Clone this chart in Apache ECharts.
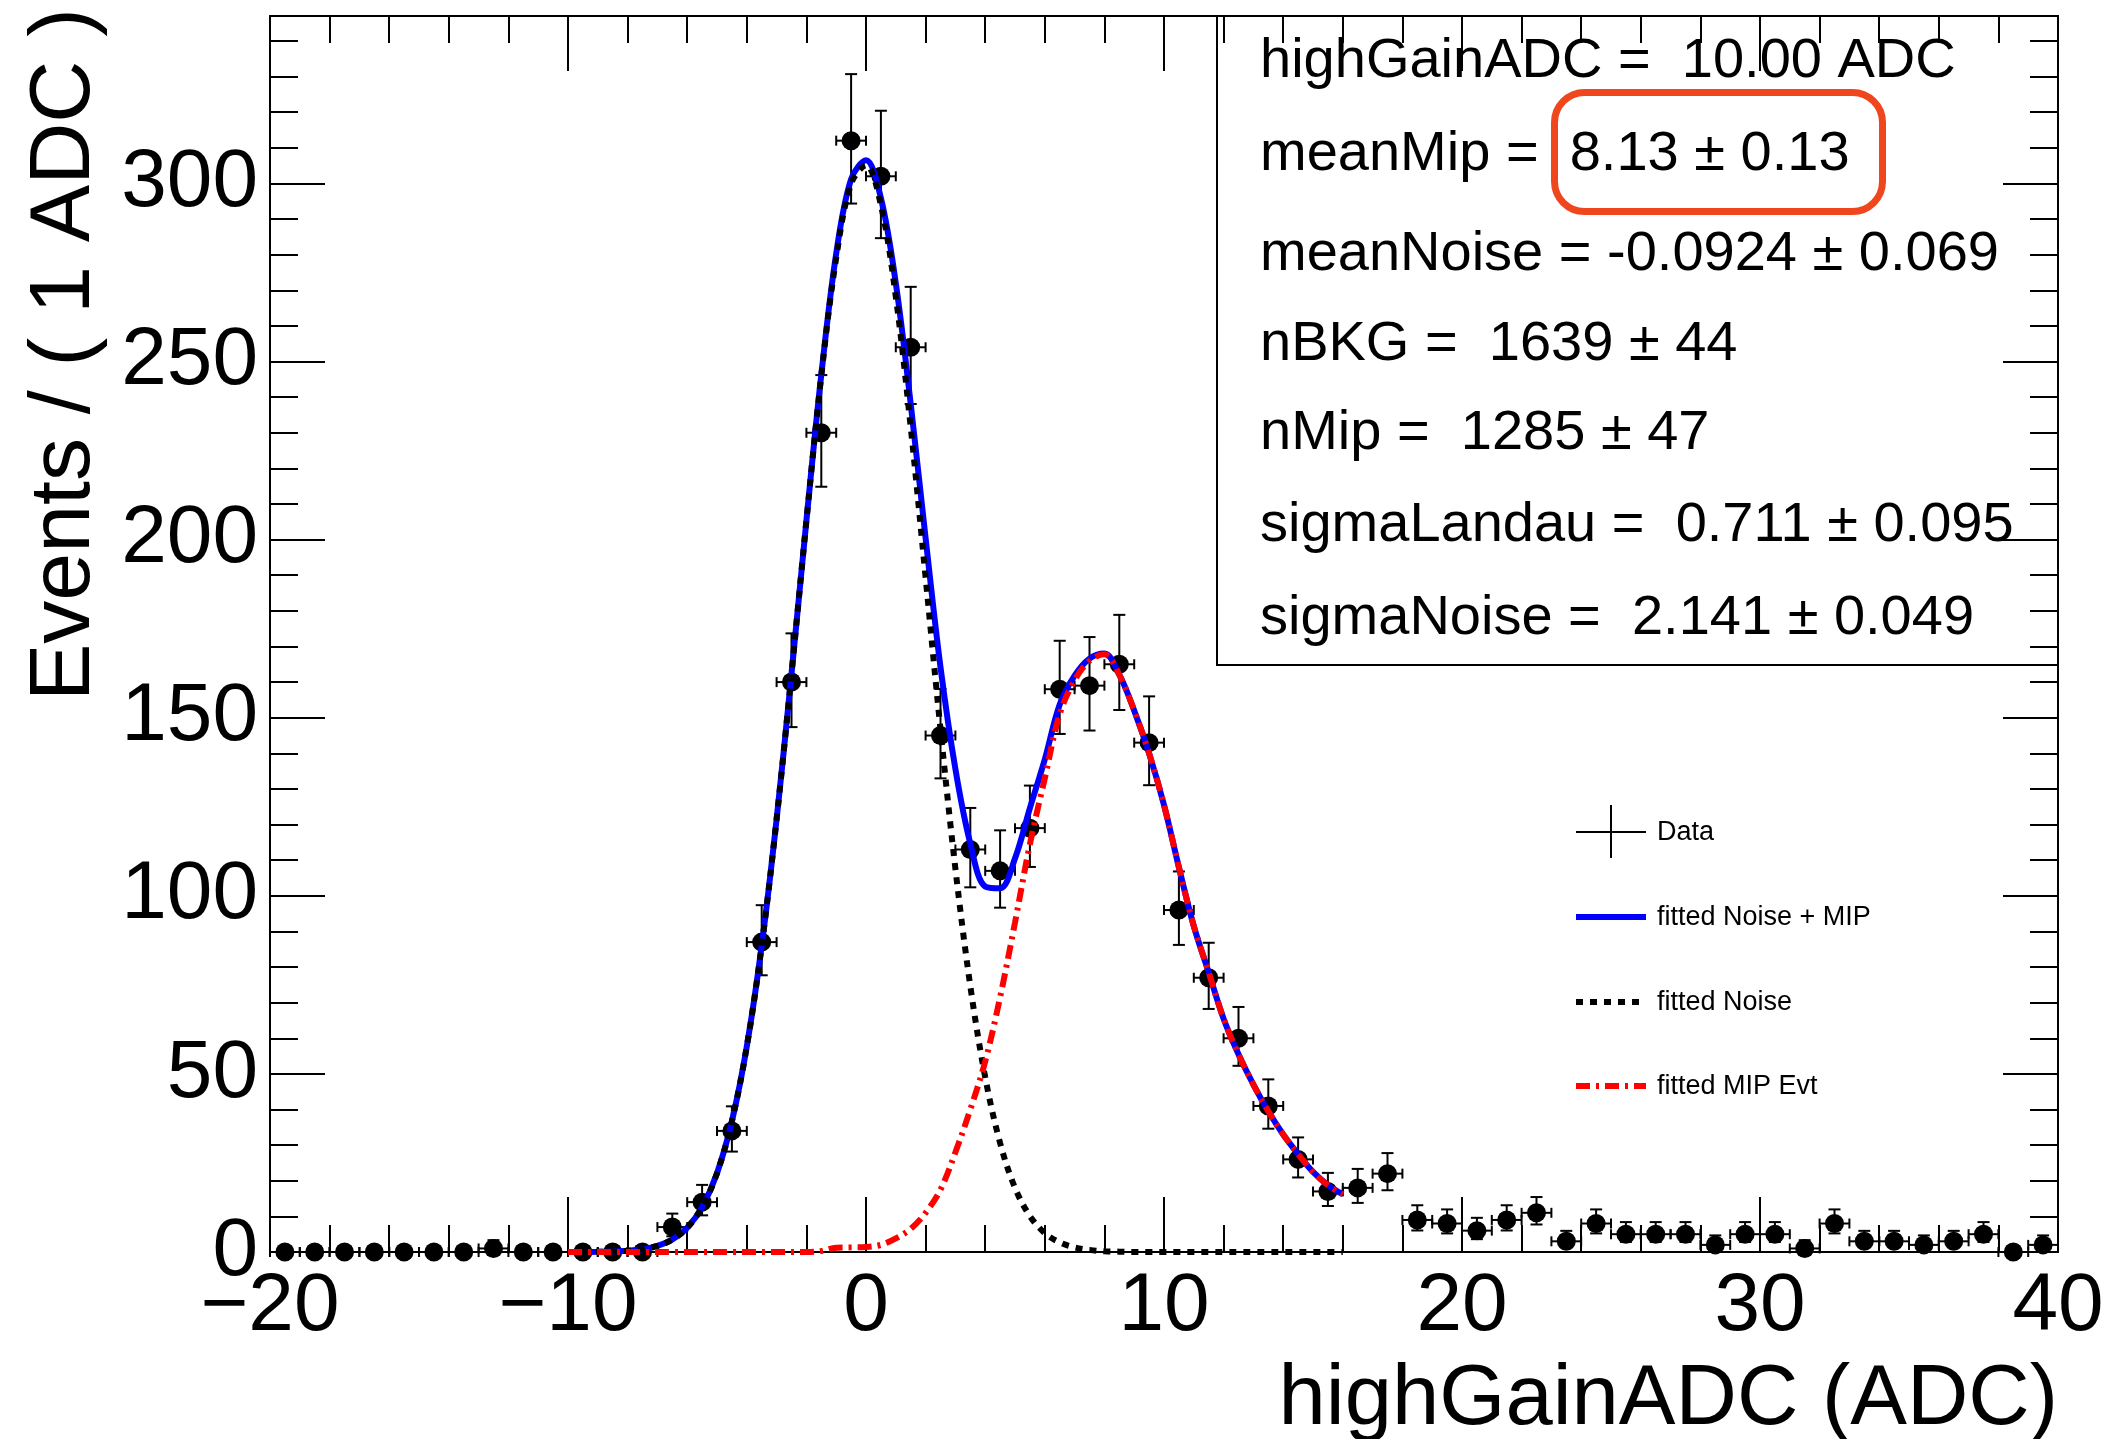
<!DOCTYPE html>
<html>
<head>
<meta charset="utf-8">
<script src="https://cdn.jsdelivr.net/npm/echarts@6/dist/echarts.min.js"></script>
<style>
html,body{margin:0;padding:0;background:#ffffff;}
#chart{width:2114px;height:1439px;}
</style>
</head>
<body>
<div id="chart"></div>
<script>
// ---------------- data ----------------
// histogram bins (1 ADC wide), bin centres
const binCenters = [
 -19.5,-18.5,-17.5,-16.5,-15.5,-14.5,-13.5,-12.5,-11.5,-10.5,
 -9.5,-8.5,-7.5,-6.5,-5.5,-4.5,-3.5,-2.5,-1.5,-0.5,
 0.5,1.5,2.5,3.5,4.5,5.5,6.5,7.5,8.5,9.5,
 10.5,11.5,12.5,13.5,14.5,15.5,16.5,17.5,18.5,19.5,
 20.5,21.5,22.5,23.5,24.5,25.5,26.5,27.5,28.5,29.5,
 30.5,31.5,32.5,33.5,34.5,35.5,36.5,37.5,38.5,39.5
];
// events per bin
const counts = [
 0,0,0,0,0,0,0,1,0,0,
 0,0,0,7,14,34,87,160,230,312,
 302,254,145,113,107,119,158,159,165,143,
 96,77,60,41,26,17,18,22,9,8,
 6,9,11,3,8,5,5,5,2,5,
 5,1,8,3,3,2,3,5,0,2
];
// sample positions of the fitted curves
const curveX = [
 -10,-9.5,-9,-8.5,-8,-7.5,-7,-6.5,-6,-5.5,-5,-4.5,-4,-3.5,-3,-2.5,-2,-1.5,-1,-0.5,
 0,0.5,1,1.5,2,2.5,3,3.5,4,4.5,5,5.5,6,6.5,7,7.5,8,8.5,9,9.5,
 10,10.5,11,11.5,12,12.5,13,13.5,14,14.5,15,15.5,16
];
// fitted Noise + MIP (blue)
const totalCurve = [
 0,0.02,0.05,0.13,0.33,0.76,1.7,3.5,6.8,12.6,22.1,36.7,57.7,86.0,121.5,162.3,205.3,246.3,280.3,301.2,
 306.5,295.9,272.0,238.1,200.4,164.2,135.6,114.7,102.6,102.1,110.5,124.6,138.3,153.7,161.8,166.6,168.0,162.1,152.0,140.0,
 125.5,108.0,91.5,78.5,65.5,55.5,47.0,39.5,33.0,27.5,22.5,18.8,16.2
];
// fitted Noise (black dotted)
const noiseCurve = [
 0,0.02,0.05,0.13,0.33,0.76,1.7,3.5,6.8,12.6,22.1,36.7,57.7,86.0,121.5,162.3,205.3,246.0,279.1,299.9,
 305.1,293.9,268.2,231.6,189.4,146.7,107.6,74.7,49.1,30.6,18.0,10.1,5.3,2.7,1.3,0.6,0.2,0.1,0,0,
 0,0,0,0,0,0,0,0,0,0,0,0,0
];
// fitted MIP Evt (red dash-dot)
const mipCurve = [
 0,0,0,0,0,0,0,0,0,0,0,0,0,0,0,0,0,0.3,1.2,1.3,
 1.4,2.0,3.8,6.5,11.0,17.5,28.0,40.0,53.5,71.5,92.5,114.5,133.0,151.0,160.5,166.0,167.8,162.0,152.0,140.0,
 125.5,108.0,91.5,78.5,65.5,55.5,47.0,39.5,33.0,27.5,22.5,18.8,16.2
];
// axis tick values
const xTickValues = [-20,-10,0,10,20,30,40];
const yTickValues = [0,50,100,150,200,250,300];
// texts
const statsLines = [
 'highGainADC =  10.00 ADC',
 'meanMip =  8.13 \u00b1 0.13',
 'meanNoise = -0.0924 \u00b1 0.069',
 'nBKG =  1639 \u00b1 44',
 'nMip =  1285 \u00b1 47',
 'sigmaLandau =  0.711 \u00b1 0.095',
 'sigmaNoise =  2.141 \u00b1 0.049'
];
const legendLabels = ['Data','fitted Noise + MIP','fitted Noise','fitted MIP Evt'];
const xTitle = 'highGainADC (ADC)';
const yTitle = 'Events / ( 1 ADC )';

// ---------------- build chart ----------------
const FONT = '"Liberation Sans", Arial, Helvetica, sans-serif';
// Poisson (Garwood-like) asymmetric error of each count, as RooFit draws them
const dataPts = binCenters.map((x, i) => {
  const n = counts[i];
  const lo = n > 0 ? Math.sqrt(n - 0.25) : 0;
  const hi = Math.sqrt(n + 0.75) + 1 - (n === 0 ? 0.72 : 0);
  return [x, n, lo, hi];
});
const pairs = arr => curveX.map((x, i) => [x, arr[i]]);

const chart = echarts.init(document.getElementById('chart'), null, {renderer: 'canvas'});

const xFmt = v => (xTickValues.indexOf(v) < 0 ? '' : (v < 0 ? '\u2212' + Math.abs(v) : String(v)));
const yFmt = v => (yTickValues.indexOf(v) >= 0 ? String(v) : '');

const axisLineStyle = {color: '#000', width: 2};
function xAx(pos, labels) {
  return {
    type: 'value', position: pos, min: -20, max: 40, interval: 10,
    axisLine: {show: true, onZero: false, lineStyle: axisLineStyle},
    axisTick: {show: true, inside: true, length: 55, lineStyle: {color: '#000', width: 2}},
    minorTick: {show: true, splitNumber: 5, length: 27, lineStyle: {color: '#000', width: 2}},
    splitLine: {show: false}, minorSplitLine: {show: false},
    axisLabel: {show: labels, formatter: xFmt, color: '#000', fontFamily: FONT, fontSize: 82, margin: 14,
                showMinLabel: true, showMaxLabel: true}
  };
}
function yAx(pos, interval, tickLen, labels, line) {
  return {
    type: 'value', position: pos, min: 0, max: 347, interval: interval, offset: 0,
    axisLine: {show: line, onZero: false, lineStyle: axisLineStyle},
    axisTick: {show: true, inside: true, length: tickLen, lineStyle: {color: '#000', width: 2}},
    splitLine: {show: false},
    axisLabel: {show: labels, formatter: yFmt, color: '#000', fontFamily: FONT, fontSize: 82, margin: 12,
                showMaxLabel: false}
  };
}

const graphics = [];
// stats box
graphics.push({type: 'rect', shape: {x: 1217, y: 16, width: 841, height: 649},
  style: {fill: 'none', stroke: '#000', lineWidth: 2}, z: 50});
const statY = [62, 155, 255, 345, 434, 526, 619];
statsLines.forEach((t, i) => {
  graphics.push({type: 'text', x: 1260, y: statY[i], z: 51,
    style: {text: t, font: '56px ' + FONT, fill: '#000', textAlign: 'left', textVerticalAlign: 'middle'}});
});
// highlight box around meanMip value
graphics.push({type: 'rect', shape: {x: 1554.5, y: 92.5, width: 328, height: 119, r: 30},
  style: {fill: 'none', stroke: '#f0461e', lineWidth: 7}, z: 52});
// legend
const legY = [832, 917, 1002, 1086];
graphics.push({type: 'line', shape: {x1: 1576, y1: 832, x2: 1646, y2: 832}, style: {stroke: '#000', lineWidth: 2}, z: 50});
graphics.push({type: 'line', shape: {x1: 1611, y1: 805, x2: 1611, y2: 858}, style: {stroke: '#000', lineWidth: 2}, z: 50});
graphics.push({type: 'line', shape: {x1: 1576, y1: 917, x2: 1646, y2: 917}, style: {stroke: '#0000ff', lineWidth: 6}, z: 50});
graphics.push({type: 'line', shape: {x1: 1576, y1: 1002, x2: 1646, y2: 1002}, style: {stroke: '#000', lineWidth: 6, lineDash: [7, 7]}, z: 50});
graphics.push({type: 'line', shape: {x1: 1576, y1: 1086, x2: 1646, y2: 1086}, style: {stroke: '#ff0000', lineWidth: 6, lineDash: [14, 6, 3, 6]}, z: 50});
legendLabels.forEach((t, i) => {
  graphics.push({type: 'text', x: 1657, y: legY[i] + 1, z: 51,
    style: {text: t, font: '27px ' + FONT, fill: '#000', textAlign: 'left', textVerticalAlign: 'middle'}});
});
// axis titles
graphics.push({type: 'text', x: 2058, y: 1443, z: 51,
  style: {text: xTitle, font: '85px ' + FONT, fill: '#000', textAlign: 'right', textVerticalAlign: 'bottom'}});
graphics.push({type: 'text', x: 108, y: 701, rotation: Math.PI / 2, z: 51,
  style: {text: yTitle, font: '86px ' + FONT, fill: '#000', textAlign: 'left', textVerticalAlign: 'bottom'}});

const option = {
  animation: false,
  backgroundColor: '#ffffff',
  grid: {left: 270, right: 56, top: 16, bottom: 187, containLabel: false, outerBoundsMode: 'none'},
  xAxis: [xAx('bottom', true), xAx('top', false)],
  yAxis: [
    yAx('left', 50, 55, true, true),
    yAx('left', 10, 28, false, false),
    yAx('right', 50, 55, false, true),
    yAx('right', 10, 28, false, false)
  ],
  series: [
    {
      name: 'Data', type: 'custom', xAxisIndex: 0, yAxisIndex: 0, data: dataPts, z: 2,
      renderItem: function (params, api) {
        const x = api.value(0), y = api.value(1), lo = api.value(2), hi = api.value(3);
        const c = api.coord([x, y]);
        const t = api.coord([x, y + hi]);
        const b = api.coord([x, y - lo]);
        const l = api.coord([x - 0.5, y]);
        const r = api.coord([x + 0.5, y]);
        const st = {stroke: '#000', lineWidth: 2};
        const cw = 6, ch = 5;
        return {type: 'group', children: [
          {type: 'line', shape: {x1: c[0], y1: t[1], x2: c[0], y2: b[1]}, style: st},
          {type: 'line', shape: {x1: c[0] - cw, y1: t[1], x2: c[0] + cw, y2: t[1]}, style: st},
          {type: 'line', shape: {x1: c[0] - cw, y1: b[1], x2: c[0] + cw, y2: b[1]}, style: st},
          {type: 'line', shape: {x1: l[0], y1: c[1], x2: r[0], y2: c[1]}, style: st},
          {type: 'line', shape: {x1: l[0], y1: c[1] - ch, x2: l[0], y2: c[1] + ch}, style: st},
          {type: 'line', shape: {x1: r[0], y1: c[1] - ch, x2: r[0], y2: c[1] + ch}, style: st}
        ]};
      }
    },
    {
      name: 'Data markers', type: 'scatter', xAxisIndex: 0, yAxisIndex: 0, z: 3,
      data: binCenters.map((x, i) => [x, counts[i]]),
      symbol: 'circle', symbolSize: 19, itemStyle: {color: '#000', opacity: 1}, clip: false
    },
    {
      name: legendLabels[1], type: 'line', xAxisIndex: 0, yAxisIndex: 0, z: 4,
      data: pairs(totalCurve), showSymbol: false, symbol: 'none', smooth: 0.35, clip: false,
      lineStyle: {color: '#0000ff', width: 6}
    },
    {
      name: legendLabels[2], type: 'line', xAxisIndex: 0, yAxisIndex: 0, z: 5,
      data: pairs(noiseCurve), showSymbol: false, symbol: 'none', smooth: 0.35, clip: false,
      lineStyle: {color: '#000000', width: 6, type: [7, 7]}
    },
    {
      name: legendLabels[3], type: 'line', xAxisIndex: 0, yAxisIndex: 0, z: 6,
      data: pairs(mipCurve), showSymbol: false, symbol: 'none', smooth: 0.35, clip: false,
      lineStyle: {color: '#ff0000', width: 6, type: [14, 6, 3, 6]}
    }
  ],
  graphic: {elements: graphics}
};
chart.setOption(option);
</script>
</body>
</html>
